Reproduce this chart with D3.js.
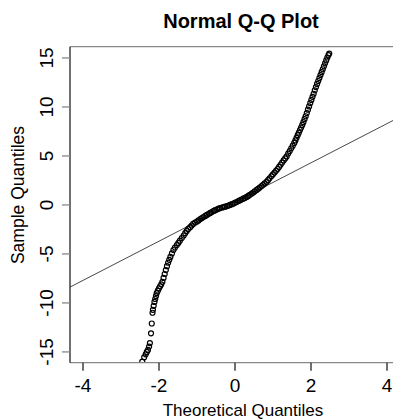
<!DOCTYPE html>
<html lang="en">
<head>
    <title>Normal Q-Q Plot</title>
    <script src="https://d3js.org/d3.v7.min.js"></script>
</head>
<style type="text/css">
    body{ margin: 0; background: #fff; }
    svg text{ font-family: "Liberation Sans", Arial, sans-serif; fill: #000; }
</style>
<body>
<script>
    // theoretical quantiles (x) and sample quantiles (y)
    var theoretical = [
        -2.44,-2.39,-2.35,-2.32,-2.29,-2.26,-2.24,-2.21,-2.19,-2.17,-2.16,-2.14,-2.12,-2.10,-2.08,-2.06,
        -2.03,-2.00,-1.97,-1.94,-1.91,-1.88,-1.85,-1.82,-1.79,-1.76,-1.73,-1.70,-1.66,-1.62,-1.58,-1.53,
        -1.49,-1.45,-1.40,-1.35,-1.31,-1.27,-1.23,-1.18,-1.14,-1.10,-1.05,-1.00,-0.96,-0.91,-0.87,-0.83,
        -0.78,-0.74,-0.69,-0.65,-0.61,-0.56,-0.52,-0.47,-0.43,-0.39,-0.34,-0.30,-0.26,-0.21,-0.17,-0.13,
        -0.08,-0.04,0.00,0.04,0.09,0.13,0.17,0.22,0.26,0.31,0.35,0.39,0.44,0.48,0.52,0.57,
        0.61,0.65,0.70,0.74,0.78,0.83,0.87,0.91,0.96,1.00,1.04,1.08,1.12,1.16,1.20,1.24,
        1.28,1.32,1.36,1.40,1.44,1.48,1.52,1.56,1.59,1.62,1.65,1.68,1.71,1.74,1.77,1.80,
        1.83,1.86,1.89,1.92,1.95,1.98,2.01,2.04,2.07,2.10,2.13,2.16,2.19,2.22,2.25,2.28,
        2.31,2.34,2.37,2.40,2.43,2.46,2.48
    ];
    var sample = [
        -16.00,-15.55,-15.25,-15.00,-14.80,-14.45,-14.10,-13.10,-12.10,-11.00,-10.70,-10.30,-9.90,-9.60,-9.30,-9.00,
        -8.75,-8.50,-8.30,-8.10,-7.85,-7.45,-7.05,-6.65,-6.25,-5.90,-5.60,-5.30,-4.95,-4.60,-4.35,-4.10,
        -3.88,-3.65,-3.38,-3.12,-2.88,-2.65,-2.45,-2.27,-2.10,-1.94,-1.80,-1.70,-1.58,-1.44,-1.33,-1.23,
        -1.12,-1.02,-0.91,-0.81,-0.72,-0.61,-0.53,-0.45,-0.38,-0.31,-0.26,-0.22,-0.18,-0.12,-0.06,0.00,
        0.08,0.15,0.22,0.30,0.39,0.47,0.55,0.64,0.72,0.82,0.92,1.03,1.16,1.27,1.39,1.53,
        1.65,1.77,1.93,2.06,2.20,2.35,2.53,2.72,2.95,3.13,3.30,3.48,3.67,3.88,4.10,4.32,
        4.54,4.75,4.95,5.24,5.50,5.78,6.05,6.33,6.58,6.85,7.12,7.38,7.65,7.90,8.17,8.45,
        8.75,9.05,9.38,9.72,10.05,10.40,10.72,11.03,11.35,11.70,12.03,12.35,12.65,12.95,13.25,13.55,
        13.85,14.15,14.45,14.75,15.05,15.30,15.45
    ];
    var xTicks = [-4, -2, 0, 2, 4];
    var yTicks = [-15, -10, -5, 0, 5, 10, 15];
    // reference line through the quartiles
    var lineIntercept = 0.3;
    var lineSlope = 2.0;

    var width = 393, height = 419;
    var padLeft = 70, padRight = 400, padTop = 46.7, padBottom = 362.7;

    var x = d3.scaleLinear().domain([-4.342, 4.342]).range([padLeft, padRight]);
    var y = d3.scaleLinear().domain([-16.1, 16.15]).range([padBottom, padTop]);

    var svg = d3.select("body").append("svg")
        .attr("width", width)
        .attr("height", height);

    svg.append("clipPath").attr("id", "plotclip")
        .append("rect")
        .attr("x", padLeft).attr("y", padTop)
        .attr("width", padRight - padLeft).attr("height", padBottom - padTop);

    var plot = svg.append("g").attr("clip-path", "url(#plotclip)");

    // qq line
    plot.append("line")
        .attr("x1", x(-4.342)).attr("y1", y(lineIntercept + lineSlope * -4.342))
        .attr("x2", x(4.342)).attr("y2", y(lineIntercept + lineSlope * 4.342))
        .attr("stroke", "#333").attr("stroke-width", 0.9);

    // points
    plot.selectAll("circle")
        .data(d3.range(sample.length))
        .enter()
        .append("circle")
        .attr("cx", function(i){ return x(theoretical[i]); })
        .attr("cy", function(i){ return y(sample[i]); })
        .attr("r", 2.5)
        .attr("fill", "none")
        .attr("stroke", "#000")
        .attr("stroke-width", 1.2);

    // frame: top and bottom gray, left dark
    svg.append("line").attr("x1", padLeft).attr("x2", padRight).attr("y1", padTop).attr("y2", padTop)
        .attr("stroke", "#888").attr("stroke-width", 1.3);
    svg.append("line").attr("x1", padLeft).attr("x2", padRight).attr("y1", padBottom).attr("y2", padBottom)
        .attr("stroke", "#888").attr("stroke-width", 1.3);
    svg.append("line").attr("x1", padLeft).attr("x2", padLeft).attr("y1", padTop).attr("y2", padBottom)
        .attr("stroke", "#222").attr("stroke-width", 1.3);

    // x axis
    var xa = svg.append("g");
    xa.selectAll("line").data(xTicks).enter().append("line")
        .attr("x1", function(d){ return x(d); }).attr("x2", function(d){ return x(d); })
        .attr("y1", padBottom).attr("y2", padBottom + 8)
        .attr("stroke", "#222").attr("stroke-width", 1.3);
    xa.selectAll("text").data(xTicks).enter().append("text")
        .attr("x", function(d){ return x(d); })
        .attr("y", 391.5)
        .attr("text-anchor", "middle")
        .style("font-size", "19px")
        .text(function(d){ return d; });

    // y axis
    var ya = svg.append("g");
    ya.selectAll("line").data(yTicks).enter().append("line")
        .attr("x1", padLeft - 8).attr("x2", padLeft)
        .attr("y1", function(d){ return y(d); }).attr("y2", function(d){ return y(d); })
        .attr("stroke", "#888").attr("stroke-width", 1.3);
    ya.selectAll("text").data(yTicks).enter().append("text")
        .attr("transform", function(d){ return "translate(53," + y(d) + ") rotate(-90)"; })
        .attr("text-anchor", "middle")
        .style("font-size", "19px")
        .text(function(d){ return d; });

    // titles
    svg.append("text")
        .attr("x", 241).attr("y", 28.3)
        .attr("text-anchor", "middle")
        .style("font-size", "20px").style("font-weight", "bold")
        .text("Normal Q-Q Plot");
    svg.append("text")
        .attr("x", 243).attr("y", 416)
        .attr("text-anchor", "middle")
        .style("font-size", "17px")
        .text("Theoretical Quantiles");
    svg.append("text")
        .attr("transform", "translate(24,195) rotate(-90)")
        .attr("text-anchor", "middle")
        .style("font-size", "17.5px")
        .text("Sample Quantiles");
</script>
</body>
</html>
